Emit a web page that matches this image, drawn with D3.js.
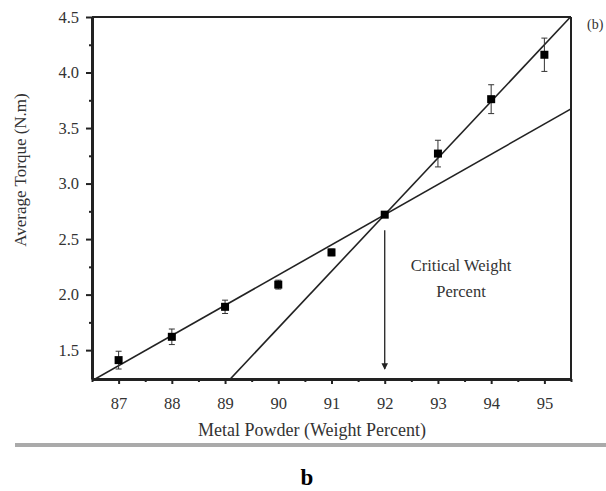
<!DOCTYPE html>
<html>
<head>
<meta charset="utf-8">
<script src="https://cdn.jsdelivr.net/npm/d3@7"></script>
<style>
  body { margin: 0; background: #fff; }
  svg { display: block; font-family: "Liberation Serif", "DejaVu Serif", serif; }
</style>
</head>
<body>
<svg width="606" height="491"></svg>
<script>
// measured points (metal powder wt%, average torque N.m, error)
const powder = [87, 88, 89, 90, 91, 92, 93, 94, 95];
const torque = [1.41, 1.62, 1.89, 2.09, 2.38, 2.72, 3.27, 3.76, 4.16];
const errors = [0.08, 0.07, 0.06, 0.04, 0.03, 0.02, 0.12, 0.13, 0.15];

// two fitted lines, both crossing at the critical point
const fitSlopes = [0.272, 0.51];
const critical = [92, 2.72];

const xTicks = [87, 88, 89, 90, 91, 92, 93, 94, 95];
const yTicks = [1.5, 2.0, 2.5, 3.0, 3.5, 4.0, 4.5];

const svg = d3.select('svg');
const pLeft = 92, pRight = 571, pTop = 17, pBottom = 379;

const x = d3.scaleLinear().domain([86.5, 95.5]).range([pLeft, pRight]);
const y = d3.scaleLinear().domain([1.24, 4.5]).range([pBottom, pTop]);

const plot = svg.append('g');

// clip for fit lines
svg.append('clipPath').attr('id', 'clip')
  .append('rect').attr('x', pLeft).attr('y', pTop).attr('width', pRight - pLeft).attr('height', pBottom - pTop);

// fit lines
const lineGen = d3.line().x(d => x(d[0])).y(d => y(d[1]));
fitSlopes.forEach(s => {
  const ends = [86.5, 95.5].map(v => [v, critical[1] + s * (v - critical[0])]);
  plot.append('path')
    .attr('d', lineGen(ends))
    .attr('clip-path', 'url(#clip)')
    .attr('fill', 'none').attr('stroke', '#222').attr('stroke-width', 1.6);
});

// error bars
const pts = powder.map((p, i) => ({p, t: torque[i], e: errors[i]}));
const eb = plot.selectAll('g.eb').data(pts).join('g').attr('class', 'eb');
eb.append('line')
  .attr('x1', d => x(d.p)).attr('x2', d => x(d.p))
  .attr('y1', d => y(d.t + d.e)).attr('y2', d => y(d.t - d.e))
  .attr('stroke', '#333').attr('stroke-width', 1);
[1, -1].forEach(sg => {
  eb.append('line')
    .attr('x1', d => x(d.p) - 3).attr('x2', d => x(d.p) + 3)
    .attr('y1', d => y(d.t + sg * d.e)).attr('y2', d => y(d.t + sg * d.e))
    .attr('stroke', '#333').attr('stroke-width', 1);
});
eb.append('rect')
  .attr('x', d => x(d.p) - 4).attr('y', d => y(d.t) - 4)
  .attr('width', 8).attr('height', 8).attr('fill', '#000');

// frame: top and right
plot.append('line').attr('x1', pLeft).attr('x2', pRight).attr('y1', pTop).attr('y2', pTop)
  .attr('stroke', '#222').attr('stroke-width', 2);
plot.append('line').attr('x1', pRight).attr('x2', pRight).attr('y1', pTop).attr('y2', pBottom)
  .attr('stroke', '#222').attr('stroke-width', 2);

// axes
const xAxis = d3.axisBottom(x).tickValues(xTicks).tickFormat(d3.format('d')).tickSize(5);
const xMinor = d3.axisBottom(x).tickValues(d3.range(86.5, 95.6, 1)).tickFormat('').tickSize(3);
const yAxis = d3.axisLeft(y).tickValues(yTicks).tickFormat(d3.format('.1f')).tickSize(6);
const yMinor = d3.axisLeft(y).tickValues([1.75, 2.25, 2.75, 3.25, 3.75, 4.25]).tickFormat('').tickSize(3);

function styleAxis(g) {
  g.select('.domain').attr('stroke', '#222').attr('stroke-width', 3);
  g.selectAll('.tick line').attr('stroke', '#222').attr('stroke-width', 2);
  g.selectAll('.tick text').attr('fill', '#333').attr('font-size', 16.5)
    .attr('font-family', '"Liberation Serif", serif');
}

svg.append('g').attr('transform', `translate(0,${pBottom})`).call(xMinor).call(styleAxis)
  .select('.domain').remove();
svg.append('g').attr('transform', `translate(${pLeft},0)`).call(yMinor).call(styleAxis)
  .select('.domain').remove();
svg.append('g').attr('transform', `translate(0,${pBottom})`).call(xAxis.tickSizeOuter(0)).call(styleAxis)
  .selectAll('.tick text').attr('y', 18).attr('dy', '0.71em');
svg.append('g').attr('transform', `translate(${pLeft},0)`).call(yAxis.tickSizeOuter(0)).call(styleAxis)
  .selectAll('.tick text').attr('x', -13);

// arrow to critical weight
svg.append('defs').append('marker').attr('id', 'arr')
  .attr('viewBox', '0 0 10 10').attr('refX', 9).attr('refY', 5)
  .attr('markerWidth', 5).attr('markerHeight', 6).attr('orient', 'auto')
  .append('path').attr('d', 'M0,0 L10,5 L0,10 z').attr('fill', '#222');
svg.append('line')
  .attr('x1', x(critical[0])).attr('x2', x(critical[0]))
  .attr('y1', y(2.58)).attr('y2', pBottom - 10)
  .attr('stroke', '#222').attr('stroke-width', 1.3).attr('marker-end', 'url(#arr)');

svg.append('text').attr('x', 461).attr('y', 271).attr('text-anchor', 'middle')
  .attr('font-size', 16.5).attr('fill', '#333').text('Critical Weight');
svg.append('text').attr('x', 461).attr('y', 297).attr('text-anchor', 'middle')
  .attr('font-size', 16.5).attr('fill', '#333').text('Percent');

// axis titles
svg.append('text').attr('x', 312).attr('y', 436).attr('text-anchor', 'middle')
  .attr('font-size', 18).attr('fill', '#333').text('Metal Powder (Weight Percent)');
svg.append('text').attr('transform', 'translate(26,170) rotate(-90)').attr('text-anchor', 'middle')
  .attr('font-size', 17).attr('fill', '#333').text('Average Torque (N.m)');

svg.append('text').attr('x', 587).attr('y', 29).attr('font-size', 14).attr('fill', '#333').text('(b)');

// bottom gray border and caption
svg.append('rect').attr('x', 15).attr('y', 443).attr('width', 591).attr('height', 4).attr('fill', '#aaa');
svg.append('text').attr('x', 307).attr('y', 485).attr('text-anchor', 'middle')
  .attr('font-size', 23).attr('font-weight', 'bold').attr('fill', '#000').text('b');
</script>
</body>
</html>
